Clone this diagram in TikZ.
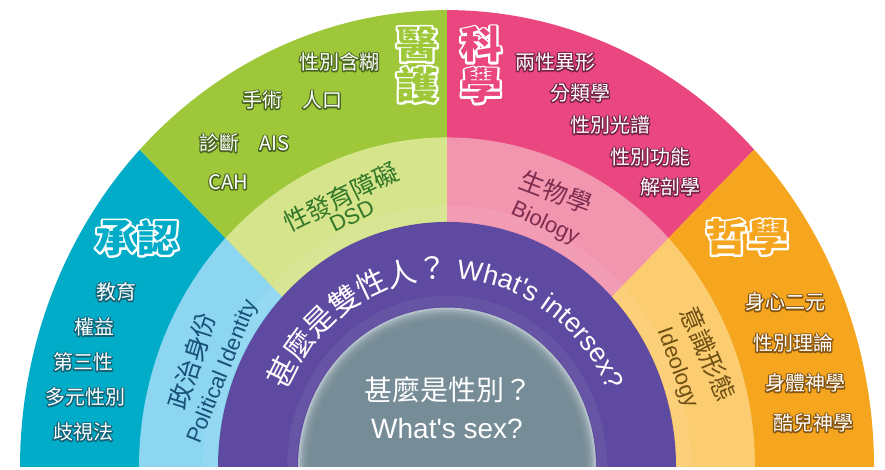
\documentclass[tikz,border=0pt]{standalone}
\usepackage{fontspec}
\usetikzlibrary{decorations.text}
\newfontfamily\cjk{Noto Sans CJK TC}
\newfontfamily\en{Liberation Sans}

\definecolor{cyanO}{RGB}{0,172,200}
\definecolor{greenO}{RGB}{158,200,58}
\definecolor{pinkO}{RGB}{234,70,128}
\definecolor{orangeO}{RGB}{245,165,30}
\definecolor{cyanI}{RGB}{140,214,242}
\definecolor{greenI}{RGB}{214,228,140}
\definecolor{pinkI}{RGB}{242,150,176}
\definecolor{orangeI}{RGB}{252,204,112}
\definecolor{purp}{RGB}{94,74,160}
\definecolor{grayD}{RGB}{115,137,148}
\definecolor{grayL}{RGB}{178,192,200}
\definecolor{cyanG}{RGB}{20,100,120}
\definecolor{greenG}{RGB}{75,105,30}
\definecolor{pinkG}{RGB}{120,35,70}
\definecolor{orangeG}{RGB}{135,85,15}
\definecolor{blueT}{RGB}{25,80,120}
\definecolor{greenT}{RGB}{50,120,40}
\definecolor{pinkT}{RGB}{125,45,80}
\definecolor{orangeT}{RGB}{110,80,20}

% outlined copy under the text: #1 colour, #2 stroke width, #3 text
\newcommand{\halo}[3]{\rlap{\color{#1}\special{pdf:literal direct 2 Tr #2 w 1 j}#3\special{pdf:literal direct 0 Tr 0.4 w 0 j}}#3}
\newcommand{\glow}[2]{\halo{#1}{2.6}{#2}}
\newcommand{\rim}[1]{\halo{white}{4}{#1}}

\tikzset{
  item/.style={font=\cjk\fontsize{20}{24}\selectfont, text=white, inner sep=0pt},
  title/.style={font=\cjk\bfseries\fontsize{38}{41}\selectfont, inner sep=0pt, align=center, xscale=1.1},
  ringcjk/.style={font=\cjk\fontsize{25}{28}\selectfont, inner sep=0pt},
  ringen/.style={font=\en\fontsize{22}{26}\selectfont, inner sep=0pt},
}

\begin{document}
\begin{tikzpicture}[x=1pt, y=1pt]
\useasboundingbox (0,0) rectangle (885,470);
\fill[white] (0,0) rectangle (885,470);
% rings are circles squeezed into ellipses, centre on the base line
\begin{scope}[shift={(447,3)}, yscale=1.07]
  \clip (-440,0) rectangle (440,440);
  \foreach \c/\a/\b in {cyanO/180/136, greenO/136/90, pinkO/90/44, orangeO/44/0}{%
    \fill[\c] (0,0) -- (\a:427) arc[start angle=\a, end angle=\b, radius=427] -- cycle;}
  \foreach \c/\a/\b in {cyanI/180/136, greenI/136/90, pinkI/90/44, orangeI/44/0}{%
    \fill[\c] (0,0) -- (\a:308) arc[start angle=\a, end angle=\b, radius=308] -- cycle;}
  \foreach \k in {1,...,7}{%
    \draw[white, opacity=0.07, line width=2pt] (0,0) circle[radius=229+2*\k];}
  \fill[purp] (0,0) circle[radius=229];
  \foreach \k in {1,...,5}{%
    \draw[white, opacity=0.06, line width=2pt] (0,0) circle[radius=149+2*\k];}
  \fill[grayL] (0,0) circle[radius=149];
  \foreach \r in {147,145,...,137}{%
    \fill[grayD, opacity=0.35] (0,0) circle[radius=\r];}
  \path[decorate, decoration={text along path, text align=center, text color=white,
      text={|\cjk\fontsize{30}{30}\selectfont|甚麼是雙性人？|\en\fontsize{27}{27}\selectfont| What's intersex?}}]
    (170:176) arc[start angle=170, end angle=10, radius=176];
\end{scope}

\node[title, text=greenO] (tMed) at (417,405) {\rim{醫}\\\rim{護}};
\node[title, text=pinkO] (tSci) at (481,405) {\rim{科}\\\rim{學}};
\node[title, text=cyanO] (tRec) at (137,232) {\rim{承認}};
\node[title, text=orangeO] (tPhi) at (747,233) {\rim{哲學}};

\node[item] (gA) at (339,408) {\glow{greenG}{性別含糊}};
\node[item] (gB) at (292,370) {\glow{greenG}{手術\quad 人口}};
\node[item] (gC) at (244,327) {\glow{greenG}{診斷\quad AIS}};
\node[item] (gD) at (228,288) {\glow{greenG}{CAH}};

\node[item] (pA) at (555,408) {\glow{pinkG}{兩性異形}};
\node[item] (pB) at (580,377) {\glow{pinkG}{分類學}};
\node[item] (pC) at (610,345) {\glow{pinkG}{性別光譜}};
\node[item] (pD) at (650,313) {\glow{pinkG}{性別功能}};
\node[item] (pE) at (670,283) {\glow{pinkG}{解剖學}};

\node[item] (cA) at (116,178) {\glow{cyanG}{教育}};
\node[item] (cB) at (94,143) {\glow{cyanG}{權益}};
\node[item] (cC) at (83,108) {\glow{cyanG}{第三性}};
\node[item] (cD) at (85,73) {\glow{cyanG}{多元性別}};
\node[item] (cE) at (83,38) {\glow{cyanG}{歧視法}};

\node[item] (oA) at (785,168) {\glow{orangeG}{身心二元}};
\node[item] (oB) at (793,127) {\glow{orangeG}{性別理論}};
\node[item] (oC) at (805,87) {\glow{orangeG}{身體神學}};
\node[item] (oD) at (813,47) {\glow{orangeG}{酷兒神學}};

\node[ringcjk, text=greenT, rotate=26] (dsdA) at (341,273) {性發育障礙};
\node[ringen, text=greenT, rotate=26] (dsdB) at (352,254) {DSD};
\node[ringcjk, text=pinkT, rotate=-21] (bioA) at (556,278) {生物學};
\node[ringen, text=pinkT, rotate=-25] (bioB) at (545,246) {Biology};
\node[ringcjk, text=blueT, rotate=72] (polA) at (192,109) {政治身份};
\node[ringen, text=blueT, rotate=68] (polB) at (223,98) {Political Identity};
\node[ringcjk, text=orangeT, rotate=-67] (ideoA) at (708,116) {意識形態};
\node[ringen, text=orangeT, rotate=-70] (ideoB) at (677,102) {Ideology};

\node[font=\cjk\fontsize{28}{30}\selectfont, text=white, inner sep=0pt] (sexA) at (448,80) {甚麼是性別？};
\node[font=\en\fontsize{28}{30}\selectfont, text=white, inner sep=0pt] (sexB) at (447,42) {What's sex?};
\end{tikzpicture}
\end{document}
